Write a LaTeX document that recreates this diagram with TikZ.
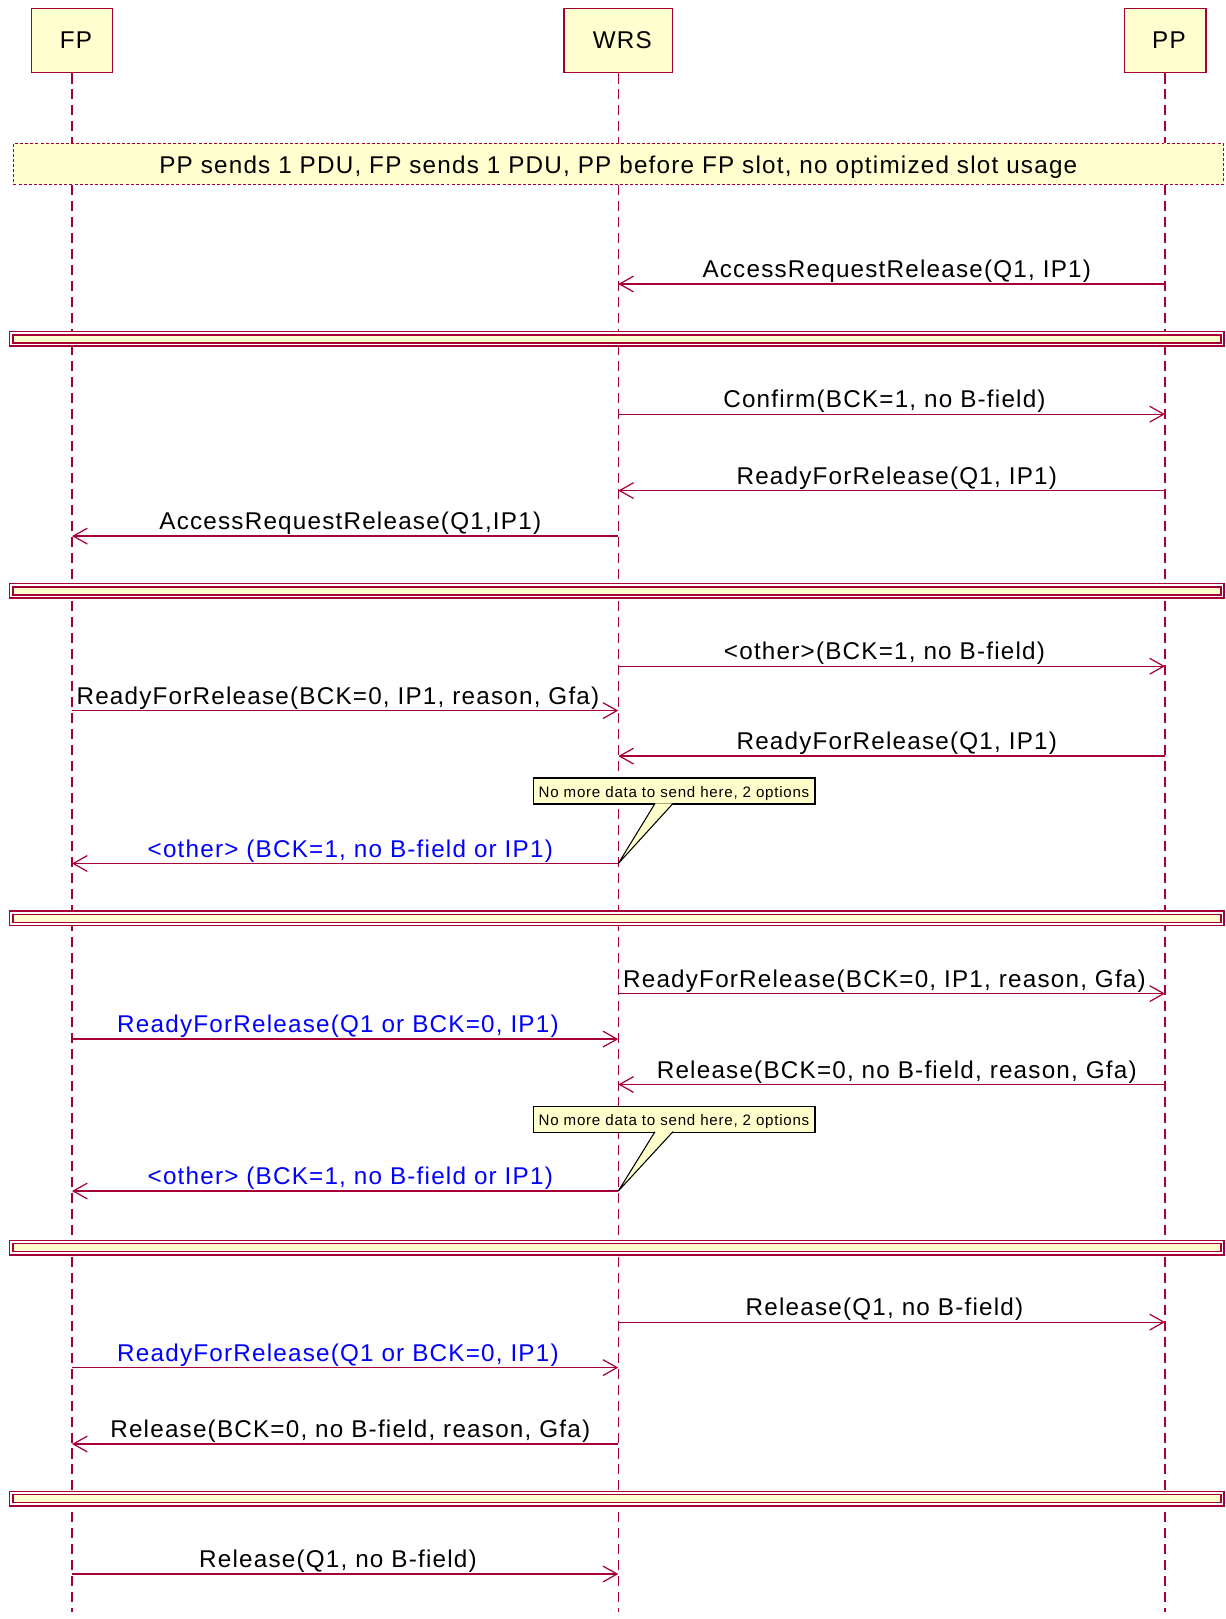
\documentclass[tikz,border=0pt]{standalone}
\usepackage{fontspec}
\setmainfont{Liberation Sans}[LetterSpace=5]
\usetikzlibrary{arrows.meta,calc}
\definecolor{umlred}{HTML}{A80036}
\definecolor{umlfill}{HTML}{FEFECE}
\definecolor{notefill}{HTML}{FFFFCC}
\newcommand{\msgfont}{\fontsize{13.8}{16}\selectfont}

\begin{document}
\begin{tikzpicture}[x=0.02cm,y=-0.02cm,
    actor/.style={draw=umlred,fill=umlfill,line width=0.85pt,minimum height=1.29cm,font=\msgfont,
        execute at begin node=\hspace*{4.5pt}},
    lifeline/.style={umlred,line width=0.7pt,dash pattern=on 5.7pt off 3.4pt},
    msg/.style={umlred,line width=0.7pt,-{Straight Barb[length=8pt,width=9pt,line width=0.7pt]}},
    lbl/.style={anchor=base,yshift=3.7pt,inner sep=0pt,text=black,font=\msgfont},
    tor/.style={lbl,xshift=-4.1pt},
    tol/.style={lbl,xshift=2.9pt},
    groupnote/.style={draw=umlred,fill=umlfill,line width=0.6pt,dash pattern=on 1.7pt off 1.2pt,
        minimum width=24.2cm,minimum height=0.82cm,text height=13pt,text depth=1.5pt,font=\msgfont},
    sepout/.style={draw=umlred,fill=white,line width=0.8pt},
    sepin/.style={draw=umlred,fill=umlfill,line width=0.8pt},
    callout/.style={draw=black,fill=notefill,line width=0.6pt},
    notebox/.style={callout,minimum width=5.64cm,minimum height=0.52cm,inner sep=1pt,
        text height=8.6pt,text depth=0.9pt,font=\fontsize{8.6}{10}\selectfont}]
    \useasboundingbox (0,0) rectangle (1225,1619);

    % participants
    \node[actor,minimum width=1.62cm] (fp) at (72,40.5) {FP};
    \node[actor,minimum width=2.17cm] (wrs) at (618.3,40.5) {WRS};
    \node[actor,minimum width=1.63cm] (pp) at (1165,40.5) {PP};

    \coordinate (fpend) at (72,1612);
    \coordinate (wrsend) at (618.3,1612);
    \coordinate (ppend) at (1165,1612);
    \draw[lifeline] (fp.south) -- (fpend);
    \draw[lifeline] (wrs.south) -- (wrsend);
    \draw[lifeline] (pp.south) -- (ppend);

    \node[groupnote] (cond) at (618.3,163.8) {PP sends 1 PDU, FP sends 1 PDU, PP before FP slot, no optimized slot usage};

    % block 1
    \coordinate (w1) at (618.3,284); \coordinate (p1) at (1165,284);
    \draw[msg] (p1) -- (w1) node[tol,midway] {AccessRequestRelease(Q1, IP1)};

    \draw[sepout] (9.5,331.6) rectangle (1224,346);
    \draw[sepin] (13,334.8) rectangle (1221,342.8);

    % block 2
    \coordinate (w2) at (618.3,414.2); \coordinate (p2) at (1165,414.2);
    \draw[msg] (w2) -- (p2) node[tor,midway] {Confirm(BCK=1, no B-field)};
    \coordinate (w3) at (618.3,490.6); \coordinate (p3) at (1165,490.6);
    \draw[msg] (p3) -- (w3) node[tol,midway] {ReadyForRelease(Q1, IP1)};
    \coordinate (f4) at (72,536.1); \coordinate (w4) at (618.3,536.1);
    \draw[msg] (w4) -- (f4) node[tol,midway] {AccessRequestRelease(Q1,IP1)};

    \draw[sepout] (9.5,583.6) rectangle (1224,598);
    \draw[sepin] (13,586.8) rectangle (1221,594.8);

    % block 3
    \coordinate (w5) at (618.3,666.2); \coordinate (p5) at (1165,666.2);
    \draw[msg] (w5) -- (p5) node[tor,midway] {<other>(BCK=1, no B-field)};
    \coordinate (f6) at (72,710.6); \coordinate (w6) at (618.3,710.6);
    \draw[msg] (f6) -- (w6) node[tor,midway] {ReadyForRelease(BCK=0, IP1, reason, Gfa)};
    \coordinate (w7) at (618.3,756.1); \coordinate (p7) at (1165,756.1);
    \draw[msg] (p7) -- (w7) node[tol,midway] {ReadyForRelease(Q1, IP1)};
    \coordinate (f8) at (72,863.5); \coordinate (w8) at (618.3,863.5);
    \draw[msg] (w8) -- (f8) node[tol,midway,text=blue] {<other> (BCK=1, no B-field or IP1)};

    \node[notebox] (opt1) at (674,791) {No more data to send here, 2 options};
    \filldraw[callout] ([xshift=-0.38cm,yshift=0.6pt]opt1.south) -- (w8) -- ([xshift=-0.02cm,yshift=0.6pt]opt1.south);

    \draw[sepout] (9.5,911) rectangle (1224,925.4);
    \draw[sepin] (13,914.2) rectangle (1221,922.2);

    % block 4
    \coordinate (w9) at (618.3,993.6); \coordinate (p9) at (1165,993.6);
    \draw[msg] (w9) -- (p9) node[tor,midway] {ReadyForRelease(BCK=0, IP1, reason, Gfa)};
    \coordinate (f10) at (72,1039.1); \coordinate (w10) at (618.3,1039.1);
    \draw[msg] (f10) -- (w10) node[tor,midway,text=blue] {ReadyForRelease(Q1 or BCK=0, IP1)};
    \coordinate (w11) at (618.3,1084.5); \coordinate (p11) at (1165,1084.5);
    \draw[msg] (p11) -- (w11) node[tol,midway] {Release(BCK=0, no B-field, reason, Gfa)};
    \coordinate (f12) at (72,1191); \coordinate (w12) at (618.3,1191);
    \draw[msg] (w12) -- (f12) node[tol,midway,text=blue] {<other> (BCK=1, no B-field or IP1)};

    \node[notebox] (opt2) at (674,1119.2) {No more data to send here, 2 options};
    \filldraw[callout] ([xshift=-0.38cm,yshift=0.6pt]opt2.south) -- (w12) -- ([xshift=-0.02cm,yshift=0.6pt]opt2.south);

    \draw[sepout] (9.5,1240.5) rectangle (1224,1254.9);
    \draw[sepin] (13,1243.7) rectangle (1221,1251.7);

    % block 5
    \coordinate (w13) at (618.3,1322.1); \coordinate (p13) at (1165,1322.1);
    \draw[msg] (w13) -- (p13) node[tor,midway] {Release(Q1, no B-field)};
    \coordinate (f14) at (72,1367.6); \coordinate (w14) at (618.3,1367.6);
    \draw[msg] (f14) -- (w14) node[tor,midway,text=blue] {ReadyForRelease(Q1 or BCK=0, IP1)};
    \coordinate (f15) at (72,1444); \coordinate (w15) at (618.3,1444);
    \draw[msg] (w15) -- (f15) node[tol,midway] {Release(BCK=0, no B-field, reason, Gfa)};

    \draw[sepout] (9.5,1491.5) rectangle (1224,1505.9);
    \draw[sepin] (13,1494.7) rectangle (1221,1502.7);

    % block 6
    \coordinate (f16) at (72,1574); \coordinate (w16) at (618.3,1574);
    \draw[msg] (f16) -- (w16) node[tor,midway] {Release(Q1, no B-field)};
\end{tikzpicture}
\end{document}
